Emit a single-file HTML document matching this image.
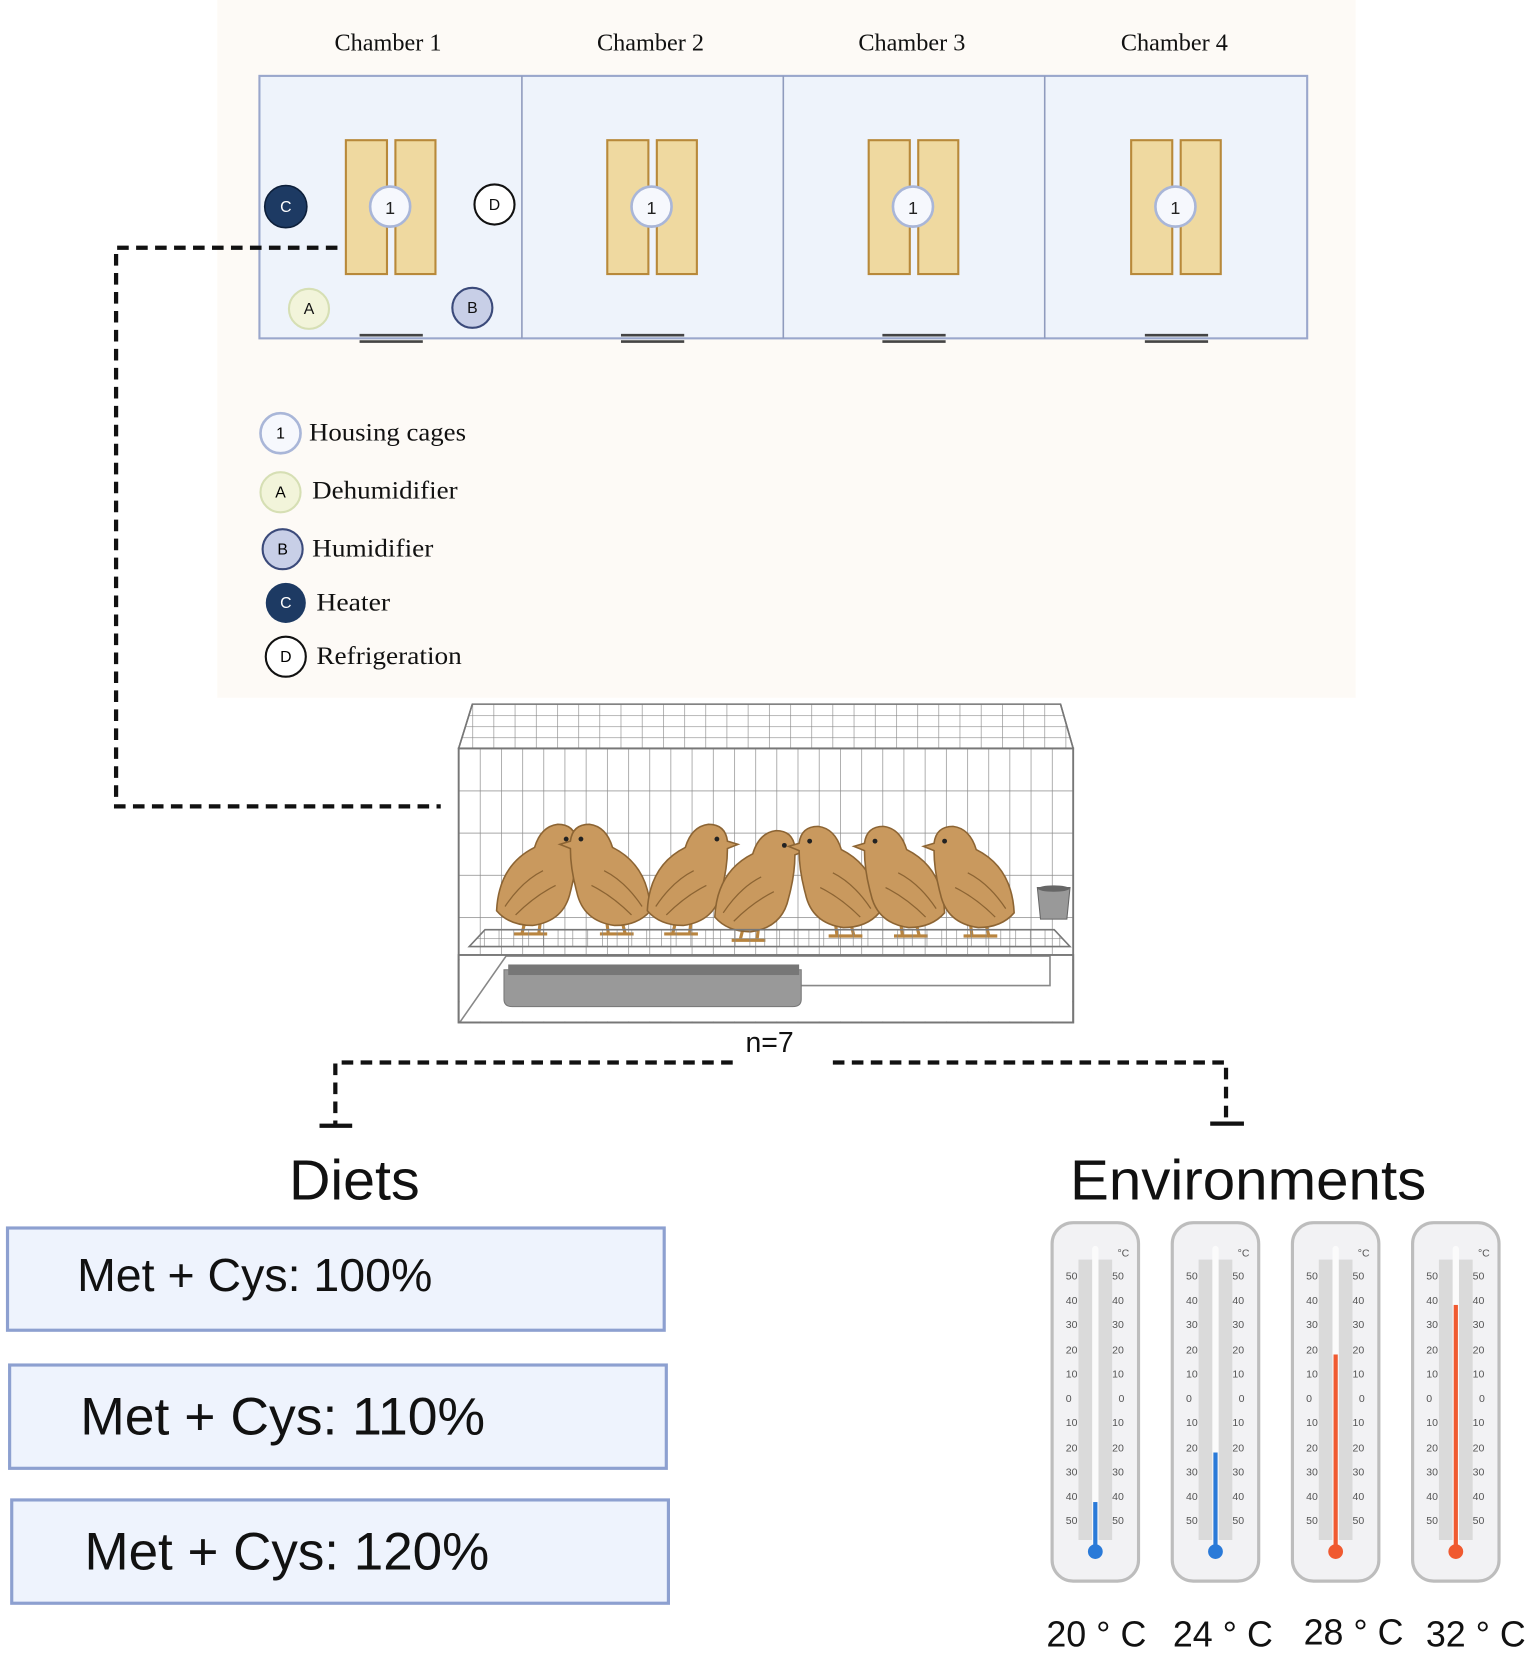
<!DOCTYPE html>
<html><head><meta charset="utf-8"><style>
html,body{margin:0;padding:0;background:#fff}
svg{display:block}
.ser{font-family:"Liberation Serif",serif}
.sans{font-family:"Liberation Sans",sans-serif}
</style></head><body>
<svg width="1535" height="1657" viewBox="0 0 1456 1572" xmlns="http://www.w3.org/2000/svg">
<defs>
<pattern id="grid" x="435" y="710" width="20.1" height="40" patternUnits="userSpaceOnUse">
<path d="M0 0V40M0 0H20.1" stroke="#8a8a8a" stroke-width="1.3" fill="none"/>
</pattern>
<pattern id="gridtop" x="448" y="668" width="20.1" height="10.5" patternUnits="userSpaceOnUse">
<path d="M0 0V10.5M0 0H20.1" stroke="#8a8a8a" stroke-width="1.2" fill="none"/>
</pattern>
<pattern id="shelf" x="445" y="882" width="14" height="8" patternUnits="userSpaceOnUse">
<path d="M0 0V8M0 0H14" stroke="#8a8a8a" stroke-width="1.2" fill="none"/>
</pattern>
<g id="quail">
<path d="M-6 34 L-10 50 M8 34 L6 50 M-18 50 H-2 M-2 50 H14" stroke="#b8843f" stroke-width="3" fill="none"/>
<path d="M-34 28 Q-32 -15 2 -32 Q8 -52 24 -54 Q40 -54 42 -38 L52 -35 L42 -31 Q42 -12 36 10 Q30 38 0 42 Q-22 42 -34 28 Z" fill="#c9995e" stroke="#8c6433" stroke-width="1.5"/>
<path d="M-26 24 Q-10 0 10 -10 M-16 32 Q2 14 22 4" stroke="#8c6433" stroke-width="1.2" fill="none"/>
<circle cx="32" cy="-40" r="2.3" fill="#222"/>
</g>
</defs>

<rect x="206" y="0" width="1080" height="662" fill="#fdfaf6"/>

<g class="ser" font-size="23" fill="#111" text-anchor="middle">
<text x="368" y="48">Chamber 1</text>
<text x="617" y="48">Chamber 2</text>
<text x="865" y="48">Chamber 3</text>
<text x="1114" y="48">Chamber 4</text>
</g>

<rect x="246" y="72" width="994" height="249" fill="#eef3fb" stroke="#9aa7cc" stroke-width="2"/>
<path d="M495 72V321M743 72V321M991 72V321" stroke="#8f9bbd" stroke-width="1.5"/>

<g id="cage1">
<rect x="328" y="133" width="39" height="127" fill="#efd9a0" stroke="#b8893a" stroke-width="2"/>
<rect x="375" y="133" width="38" height="127" fill="#efd9a0" stroke="#b8893a" stroke-width="2"/>
<circle cx="370" cy="196" r="19" fill="#f6f8fd" stroke="#a9b6d8" stroke-width="2.5"/>
<text x="370" y="203" class="sans" font-size="17" text-anchor="middle" fill="#222">1</text>
<path d="M341 318H401M341 324H401" stroke="#444" stroke-width="2.5"/>
</g>
<use href="#cage1" x="248"/>
<use href="#cage1" x="496"/>
<use href="#cage1" x="745"/>

<g class="sans" font-size="15" text-anchor="middle">
<circle cx="271" cy="196" r="20" fill="#1d3a63" stroke="#0d1f3a" stroke-width="1.5"/>
<text x="271" y="201" fill="#fff">C</text>
<circle cx="469" cy="194" r="19" fill="#fff" stroke="#111" stroke-width="2"/>
<text x="469" y="199" fill="#111">D</text>
<circle cx="293" cy="293" r="19" fill="#f2f4da" stroke="#d6dfb4" stroke-width="2"/>
<text x="293" y="298" fill="#111">A</text>
<circle cx="448" cy="292" r="19" fill="#c8cfe7" stroke="#3b4a7a" stroke-width="2"/>
<text x="448" y="297" fill="#111">B</text>
</g>

<g class="sans" font-size="15" text-anchor="middle">
<circle cx="266" cy="411" r="19" fill="#f6f8fd" stroke="#a9b6d8" stroke-width="2.5"/><text x="266" y="416">1</text>
<circle cx="266" cy="467" r="19" fill="#f2f4da" stroke="#d6dfb4" stroke-width="2"/><text x="266" y="472">A</text>
<circle cx="268" cy="521" r="19" fill="#c8cfe7" stroke="#3b4a7a" stroke-width="2"/><text x="268" y="526">B</text>
<circle cx="271" cy="572" r="19" fill="#1d3a63"/><text x="271" y="577" fill="#fff">C</text>
<circle cx="271" cy="623" r="19" fill="#fff" stroke="#111" stroke-width="2"/><text x="271" y="628">D</text>
</g>
<g class="ser" font-size="24" fill="#111">
<text x="293" y="418" textLength="149" lengthAdjust="spacingAndGlyphs">Housing cages</text>
<text x="296" y="473" textLength="138" lengthAdjust="spacingAndGlyphs">Dehumidifier</text>
<text x="296" y="528" textLength="115" lengthAdjust="spacingAndGlyphs">Humidifier</text>
<text x="300" y="579" textLength="70" lengthAdjust="spacingAndGlyphs">Heater</text>
<text x="300" y="630" textLength="138" lengthAdjust="spacingAndGlyphs">Refrigeration</text>
</g>

<path d="M320 235H110V765H418" fill="none" stroke="#111" stroke-width="4" stroke-dasharray="11 7"/>

<polygon points="448,668 1006,668 1018,710 435,710" fill="url(#gridtop)" stroke="#777" stroke-width="1.5"/>
<rect x="435" y="710" width="583" height="260" fill="url(#grid)"/>
<rect x="435" y="710" width="583" height="260" fill="none" stroke="#777" stroke-width="1.8"/>
<path d="M435 710L448 668M1018 710L1006 668" stroke="#777" stroke-width="1.5" fill="none"/>
<rect x="436" y="906" width="581" height="63" fill="#fff"/>
<path d="M436 970L480 907H996V935H760" stroke="#888" stroke-width="1.5" fill="none"/>
<rect x="435" y="906" width="583" height="64" fill="none" stroke="#777" stroke-width="1.8"/>

<use href="#quail" x="505" y="836"/>
<use href="#quail" transform="translate(583,836) scale(-1,1)"/>
<use href="#quail" x="648" y="836"/>
<use href="#quail" x="712" y="842"/>
<use href="#quail" transform="translate(800,838) scale(-1,1)"/>
<use href="#quail" transform="translate(862,838) scale(-1,1)"/>
<use href="#quail" transform="translate(928,838) scale(-1,1)"/>

<polygon points="460,882 1000,882 1015,898 445,898" fill="url(#shelf)" stroke="#777" stroke-width="1.5"/>
<path d="M478 920H760V948Q760 955 752 955H486Q478 955 478 948Z" fill="#999" stroke="#777"/>
<rect x="482" y="915" width="276" height="10" fill="#777"/>
<path d="M984 842H1015L1012 872H987Z" fill="#999" stroke="#666"/>
<ellipse cx="999.5" cy="843" rx="15" ry="3" fill="#666"/>

<text x="730" y="998" class="sans" font-size="27" text-anchor="middle" fill="#111">n=7</text>

<path d="M695 1008H318V1068M790 1008H1163V1066" fill="none" stroke="#111" stroke-width="4" stroke-dasharray="11 7"/>
<path d="M303 1068H334M1148 1066H1180" stroke="#111" stroke-width="4"/>

<g class="sans" fill="#111">
<text x="336" y="1138" font-size="54" text-anchor="middle" textLength="124" lengthAdjust="spacingAndGlyphs">Diets</text>
<text x="1184" y="1138" font-size="54" text-anchor="middle" textLength="338" lengthAdjust="spacingAndGlyphs">Environments</text>
</g>

<g fill="#eef3fd" stroke="#8da0d0" stroke-width="3">
<rect x="7" y="1165" width="623" height="97"/>
<rect x="9" y="1295" width="623" height="98"/>
<rect x="11" y="1423" width="623" height="98"/>
</g>
<g class="sans" fill="#111">
<text x="73" y="1225" font-size="44" textLength="337" lengthAdjust="spacingAndGlyphs">Met + Cys: 100%</text>
<text x="76" y="1361" font-size="50" textLength="384" lengthAdjust="spacingAndGlyphs">Met + Cys: 110%</text>
<text x="80" y="1489" font-size="50" textLength="384" lengthAdjust="spacingAndGlyphs">Met + Cys: 120%</text>
</g>

<g id="th1">
<rect x="998" y="1160" width="82" height="340" rx="20" fill="#f2f2f4" stroke="#bdbdbd" stroke-width="3"/>
<rect x="1023" y="1195" width="32" height="266" fill="#dadada"/>
<rect x="1036" y="1182" width="6" height="290" rx="3" fill="#fbfbfb"/>
<g class="sans" font-size="10" fill="#555">
<text x="1060" y="1192">°C</text>
<text x="1011" y="1214">50</text><text x="1055" y="1214">50</text>
<text x="1011" y="1237">40</text><text x="1055" y="1237">40</text>
<text x="1011" y="1260">30</text><text x="1055" y="1260">30</text>
<text x="1011" y="1284">20</text><text x="1055" y="1284">20</text>
<text x="1011" y="1307">10</text><text x="1055" y="1307">10</text>
<text x="1011" y="1330">0</text><text x="1061" y="1330">0</text>
<text x="1011" y="1353">10</text><text x="1055" y="1353">10</text>
<text x="1011" y="1377">20</text><text x="1055" y="1377">20</text>
<text x="1011" y="1400">30</text><text x="1055" y="1400">30</text>
<text x="1011" y="1423">40</text><text x="1055" y="1423">40</text>
<text x="1011" y="1446">50</text><text x="1055" y="1446">50</text>
</g>
</g>
<use href="#th1" x="114"/>
<use href="#th1" x="228"/>
<use href="#th1" x="342"/>
<rect x="1037" y="1425" width="4" height="45" fill="#2a7ad8"/><circle cx="1039" cy="1472" r="7" fill="#2a7ad8"/>
<rect x="1151" y="1378" width="4" height="92" fill="#2a7ad8"/><circle cx="1153" cy="1472" r="7" fill="#2a7ad8"/>
<rect x="1265" y="1285" width="4" height="185" fill="#f05a30"/><circle cx="1267" cy="1472" r="7" fill="#f05a30"/>
<rect x="1379" y="1238" width="4" height="232" fill="#f05a30"/><circle cx="1381" cy="1472" r="7" fill="#f05a30"/>

<g class="sans" font-size="34" fill="#111" text-anchor="middle">
<text x="1040" y="1562">20 ° C</text>
<text x="1160" y="1562">24 ° C</text>
<text x="1284" y="1560">28 ° C</text>
<text x="1400" y="1562">32 ° C</text>
</g>
</svg>
</body></html>
